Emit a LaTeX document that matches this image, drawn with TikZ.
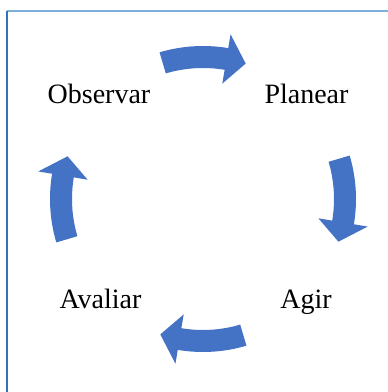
\documentclass[tikz,border=0pt]{standalone}
\usepackage{fontspec}
\setmainfont{Liberation Serif}
\definecolor{arrowblue}{HTML}{4472C4}
\definecolor{topline}{HTML}{7EB0DC}
\definecolor{leftline}{HTML}{2E75B6}
\tikzset{
  lbl/.style={anchor=base, inner sep=0pt, font=\fontsize{28}{34}\selectfont},
  cyclearrow/.style={fill=arrowblue, draw=none}
}
\newcommand{\cycarrow}[1]{%
  \pgfmathsetmacro{\aA}{#1+16.5}%
  \pgfmathsetmacro{\aB}{#1-9.5}%
  \pgfmathsetmacro{\aC}{#1-17.5}%
  \fill[cyclearrow] (\aA:153) arc[start angle=\aA, end angle=\aB, radius=153]
    -- (\aB:167) -- (\aC:142) -- (\aB:117) -- (\aB:131)
    arc[start angle=\aB, end angle=\aA, radius=131] -- cycle;}
\begin{document}
\begin{tikzpicture}[x=1pt,y=1pt]
\useasboundingbox (0,0) rectangle (388,392);
\fill[white] (0,0) rectangle (388,392);
\coordinate (tl) at (7,381);
\coordinate (tr) at (388,381);
\coordinate (bl) at (7,0);
\draw[topline, line width=1.5pt] (tl) -- (tr);
\draw[leftline, line width=1.3pt] (tl) -- (bl);
\begin{scope}[shift={(203,193)}]
  \cycarrow{90}
  \cycarrow{0}
  \cycarrow{-90}
  \cycarrow{180}
\end{scope}
\node[lbl] (obs) at (99,288) {Observar};
\node[lbl] (pla) at (306.5,288) {Planear};
\node[lbl] (ava) at (100.5,83) {Avaliar};
\node[lbl] (agi) at (306,83) {Agir};
\end{tikzpicture}
\end{document}
